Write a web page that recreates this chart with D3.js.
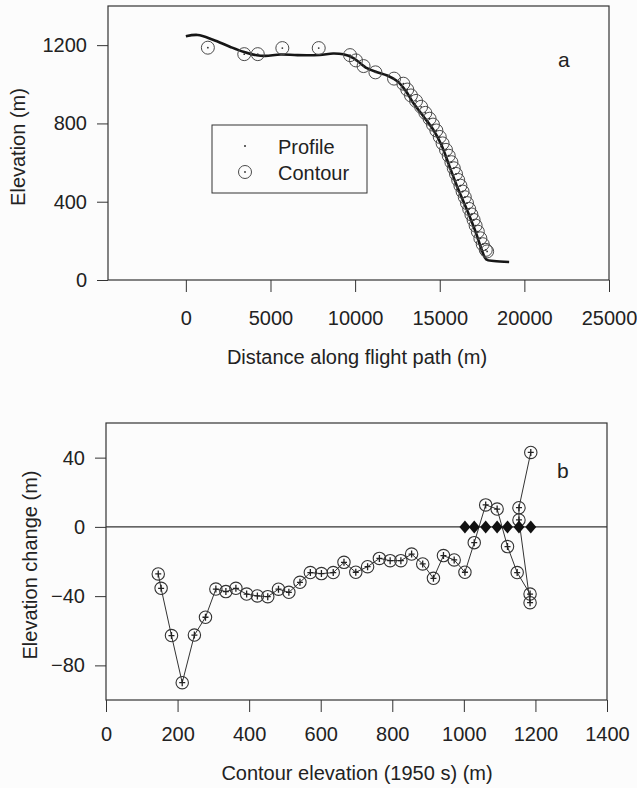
<!DOCTYPE html>
<html><head><meta charset="utf-8">
<script src="https://cdn.jsdelivr.net/npm/d3@7"></script>
<style>
body{margin:0;background:#fcfcfc}
text{font-family:"Liberation Sans",Arial,sans-serif;fill:#222}
</style>
</head><body>
<svg id="c" width="637" height="788"></svg>
<script>
// ---- Panel a: profile ----
const profileDist = [0, 700, 1600, 2600, 3400, 4200, 4700, 5600, 6600, 7900, 8700, 9300, 9900, 10700, 11300, 11900, 12500, 13000, 13400, 14000, 14600, 15100, 15600, 16100, 16600, 17100, 17500, 17750, 18200, 19100];
const profileElev = [1245, 1252, 1228, 1192, 1166, 1148, 1145, 1152, 1149, 1150, 1157, 1153, 1134, 1082, 1062, 1045, 1015, 965, 910, 840, 770, 690, 575, 462, 360, 250, 150, 105, 97, 92];
// ---- Panel a: contour points (distance, elevation) ----
const contourDist = [17800, 17720, 17540, 17400, 17250, 17120, 17000, 16870, 16740, 16610, 16480, 16350, 16220, 16090, 15960, 15830, 15690, 15530, 15370, 15170, 15000, 14800, 14600, 14400, 14150, 13900, 13600, 13300, 13080, 12850, 12300, 11200, 10500, 10050, 9700, 7850, 5700, 4250, 3450, 1300];
const contourElev = [146, 154, 183, 213, 247, 278, 307, 335, 363, 393, 423, 452, 482, 511, 542, 571, 602, 635, 665, 698, 731, 764, 794, 824, 854, 885, 915, 943, 973, 1003, 1029, 1061, 1093, 1122, 1149, 1185, 1185, 1154, 1154, 1187];
// ---- Panel b: elevation change at each contour ----
const changeValue = [-27.2, -35.5, -62.8, -90, -62.5, -52.2, -35.9, -37.4, -35.5, -38.8, -39.9, -40.3, -36, -37.8, -32, -26.4, -27, -26.4, -20.5, -26.2, -23, -18.2, -19.5, -19.5, -15.7, -21.4, -29.7, -16.6, -19.1, -26.2, -9.1, 12.7, 10.3, -11.4, -26.4, -38.8, -43.8, 4, 11.1, 43];
const zeroElev = [1003, 1029, 1061, 1093, 1122, 1154, 1187];
// ---- ticks ----
const aXTicks = [0, 5000, 10000, 15000, 20000, 25000];
const aYTicks = [0, 400, 800, 1200];
const bXTicks = [0, 200, 400, 600, 800, 1000, 1200, 1400];
const bYTicks = [-80, -40, 0, 40];

const svg = d3.select("#c");
const ink = "#333";
const fmt = d3.format("d");

function styleAxis(g){
  g.selectAll("path.domain").remove();
  g.selectAll("line").attr("stroke", ink).attr("stroke-width", 1);
  g.selectAll("text").attr("font-size", 20).attr("fill", "#222")
   .attr("font-family", '"Liberation Sans", Arial, sans-serif');
}

// ================= Panel a =================
const ax = d3.scaleLinear().domain([-4600, 25000]).range([108, 609]);
const ay = d3.scaleLinear().domain([0, 1400]).range([280, 6]);

svg.append("rect").attr("x", ax.range()[0]).attr("y", ay.range()[1])
  .attr("width", ax.range()[1]-ax.range()[0]).attr("height", ay.range()[0]-ay.range()[1])
  .attr("fill", "none").attr("stroke", ink).attr("stroke-width", 1.2);

svg.append("g").attr("transform", `translate(0,${ay(0)})`)
  .call(d3.axisBottom(ax).tickValues(aXTicks).tickFormat(fmt).tickSize(12).tickSizeOuter(0).tickPadding(19))
  .call(styleAxis);
svg.append("g").attr("transform", `translate(${ax.range()[0]},0)`)
  .call(d3.axisLeft(ay).tickValues(aYTicks).tickFormat(fmt).tickSize(11).tickSizeOuter(0).tickPadding(10))
  .call(styleAxis);

svg.append("text").attr("x", 357).attr("y", 364).attr("text-anchor", "middle").attr("font-size", 20)
  .text("Distance along flight path (m)");
svg.append("text").attr("transform", "translate(25,147) rotate(-90)").attr("text-anchor", "middle").attr("font-size", 20)
  .text("Elevation (m)");
svg.append("text").attr("x", 558).attr("y", 67).attr("font-size", 21).text("a");

const profile = profileDist.map((d,i)=>[d, profileElev[i]]);
svg.append("path").datum(profile)
  .attr("d", d3.line().x(d=>ax(d[0])).y(d=>ay(d[1])).curve(d3.curveCatmullRom.alpha(0.5)))
  .attr("fill", "none").attr("stroke", "#161616").attr("stroke-width", 2.6).attr("stroke-linejoin", "round");

const contours = contourDist.map((d,i)=>[d, contourElev[i]]);
const cg = svg.append("g");
cg.selectAll("circle.o").data(contours).join("circle").attr("class","o")
  .attr("cx", d=>ax(d[0])).attr("cy", d=>ay(d[1])).attr("r", 6.5)
  .attr("fill", "none").attr("stroke", "#4a4a4a").attr("stroke-width", 1);
cg.selectAll("circle.d").data(contours).join("circle").attr("class","d")
  .attr("cx", d=>ax(d[0])).attr("cy", d=>ay(d[1])).attr("r", 0.9).attr("fill", "#333");

// legend
const lg = svg.append("g");
lg.append("rect").attr("x", 212).attr("y", 125).attr("width", 155).attr("height", 68)
  .attr("fill", "#fcfcfc").attr("stroke", ink).attr("stroke-width", 1);
lg.append("circle").attr("cx", 245).attr("cy", 146).attr("r", 1).attr("fill", "#333");
lg.append("circle").attr("cx", 245).attr("cy", 172).attr("r", 6.5).attr("fill", "none").attr("stroke", "#4a4a4a");
lg.append("circle").attr("cx", 245).attr("cy", 172).attr("r", 0.9).attr("fill", "#333");
lg.append("text").attr("x", 278).attr("y", 154).attr("font-size", 20).text("Profile");
lg.append("text").attr("x", 278).attr("y", 180).attr("font-size", 20).text("Contour");

// ================= Panel b =================
const bx = d3.scaleLinear().domain([0, 1400]).range([106, 607]);
const by = d3.scaleLinear().domain([-100, 60]).range([700, 423]);

svg.append("rect").attr("x", bx.range()[0]).attr("y", by.range()[1])
  .attr("width", bx.range()[1]-bx.range()[0]).attr("height", by.range()[0]-by.range()[1])
  .attr("fill", "none").attr("stroke", ink).attr("stroke-width", 1.2);

svg.append("g").attr("transform", `translate(0,${by(-100)})`)
  .call(d3.axisBottom(bx).tickValues(bXTicks).tickFormat(fmt).tickSize(12).tickSizeOuter(0).tickPadding(15))
  .call(styleAxis);
svg.append("g").attr("transform", `translate(${bx.range()[0]},0)`)
  .call(d3.axisLeft(by).tickValues(bYTicks).tickFormat(fmt).tickSize(11).tickSizeOuter(0).tickPadding(10))
  .call(styleAxis);

svg.append("line").attr("x1", bx(0)).attr("x2", bx(1400)).attr("y1", by(0)).attr("y2", by(0))
  .attr("stroke", ink).attr("stroke-width", 1.2);

svg.append("text").attr("x", 357).attr("y", 780).attr("text-anchor", "middle").attr("font-size", 20)
  .text("Contour elevation (1950 s) (m)");
svg.append("text").attr("transform", "translate(37,565) rotate(-90)").attr("text-anchor", "middle").attr("font-size", 20)
  .text("Elevation change (m)");
svg.append("text").attr("x", 557).attr("y", 478).attr("font-size", 21).text("b");

const change = contourElev.map((e,i)=>[e, changeValue[i]]);
svg.append("path").datum(change)
  .attr("d", d3.line().x(d=>bx(d[0])).y(d=>by(d[1])))
  .attr("fill", "none").attr("stroke", "#333").attr("stroke-width", 1);

const pg = svg.append("g");
pg.selectAll("circle").data(change).join("circle")
  .attr("cx", d=>bx(d[0])).attr("cy", d=>by(d[1])).attr("r", 6.2)
  .attr("fill", "none").attr("stroke", "#333").attr("stroke-width", 1.1);
pg.selectAll("path.plus").data(change).join("path").attr("class","plus")
  .attr("d", d=>{const x=bx(d[0]), y=by(d[1]); return `M${x-3},${y}H${x+3}M${x},${y-3.5}V${y+3.5}`;})
  .attr("stroke", "#222").attr("stroke-width", 1.3);

svg.append("g").selectAll("path").data(zeroElev).join("path")
  .attr("d", d=>{const x=bx(d), y=by(0); return `M${x-5.5},${y}L${x},${y-6.5}L${x+5.5},${y}L${x},${y+6.5}Z`;})
  .attr("fill", "#111");
</script>
</body></html>
